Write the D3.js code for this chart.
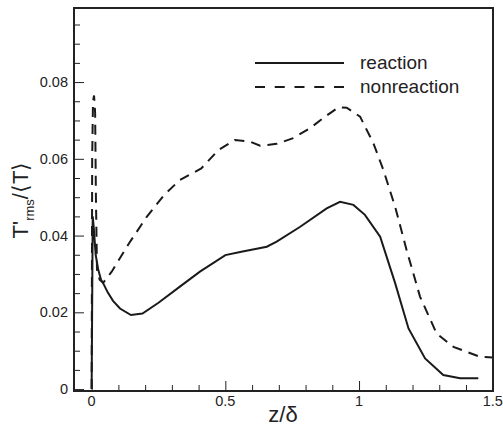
<!DOCTYPE html>
<html>
<head>
<meta charset="utf-8">
<script src="https://cdn.jsdelivr.net/npm/d3@7"></script>
<style>
  body { margin: 0; background: #fff; overflow: hidden; }
  #wrap { position: relative; width: 503px; height: 435px; }
  #wrap svg { position: absolute; left: 0; top: 0; display: block; }
  svg text { font-family: "Liberation Sans", Arial, sans-serif; fill: #222; }
</style>
</head>
<body>
<div id="wrap">
<svg id="chart"></svg>
<svg id="axes"></svg>
</div>
<script>
// reaction (solid)
var zReact = [0, 0.004, 0.008, 0.015, 0.025, 0.035, 0.043, 0.06, 0.08, 0.106, 0.147, 0.19, 0.25, 0.33, 0.405, 0.5, 0.56, 0.655, 0.692, 0.78, 0.879, 0.929, 0.979, 1.022, 1.079, 1.135, 1.185, 1.247, 1.315, 1.378, 1.446];
var vReact = [0, 0.045, 0.042, 0.035, 0.031, 0.0285, 0.0276, 0.0252, 0.023, 0.021, 0.0193, 0.0197, 0.0225, 0.0267, 0.0306, 0.0349, 0.0358, 0.0371, 0.0384, 0.0423, 0.0471, 0.0488, 0.048, 0.0454, 0.0397, 0.0276, 0.0158, 0.008, 0.00365, 0.0028, 0.0028];

// nonreaction (dashed)
var zNon = [0, 0.002, 0.005, 0.009, 0.013, 0.016, 0.02, 0.03, 0.043, 0.075, 0.14, 0.206, 0.27, 0.33, 0.41, 0.474, 0.536, 0.592, 0.63, 0.692, 0.754, 0.817, 0.873, 0.923, 0.954, 1.004, 1.054, 1.091, 1.135, 1.178, 1.228, 1.29, 1.353, 1.453, 1.5];
var vNon = [0, 0.06, 0.075, 0.0765, 0.072, 0.05, 0.031, 0.0285, 0.0277, 0.0306, 0.038, 0.0449, 0.0505, 0.0545, 0.0575, 0.0623, 0.0649, 0.0645, 0.0634, 0.0639, 0.0654, 0.068, 0.071, 0.0734, 0.0733, 0.071, 0.064, 0.0571, 0.0475, 0.0362, 0.0241, 0.0145, 0.011, 0.0084, 0.0082];

var xTicks = [0, 0.5, 1, 1.5];
var yTicks = [0, 0.02, 0.04, 0.06, 0.08];
var seriesNames = ["reaction", "nonreaction"];

var plotL = 74, plotT = 8, plotR = 493, plotB = 391;
var svg = d3.select("#chart").attr("width", 503).attr("height", 435);
var axesSvg = d3.select("#axes").attr("width", 503).attr("height", 435);

var x = d3.scaleLinear().domain([-0.066, 1.501]).range([plotL, plotR]);
var y = d3.scaleLinear().domain([-0.0005, 0.0993]).range([plotB, plotT]);

// frame and inward ticks (separate layer)
axesSvg.append("rect")
  .attr("x", plotL).attr("y", plotT)
  .attr("width", plotR - plotL).attr("height", plotB - plotT)
  .attr("fill", "none").attr("stroke", "#222").attr("stroke-width", 2);

var xMinor = d3.range(0, 1.5001, 0.1);
var yMinor = d3.range(0, 0.0951, 0.005);
function isMajor(list) {
  return function(d) { return list.some(function(t) { return Math.abs(t - d) < 1e-6; }); };
}
var gx = axesSvg.append("g")
  .attr("transform", "translate(0," + plotB + ")")
  .attr("color", "#222")
  .call(d3.axisTop(x).tickValues(xMinor).tickSize(6).tickSizeOuter(0).tickFormat(""));
gx.selectAll(".tick line").filter(isMajor(xTicks)).attr("y2", -10);

var gy = axesSvg.append("g")
  .attr("transform", "translate(" + plotL + ",0)")
  .attr("color", "#222")
  .call(d3.axisRight(y).tickValues(yMinor).tickSize(6).tickSizeOuter(0).tickFormat(""));
gy.selectAll(".tick line").filter(isMajor(yTicks)).attr("x2", 10);

// curves
var line = d3.line()
  .x(function(d) { return x(d[0]); })
  .y(function(d) { return y(d[1]); });

var reactData = zReact.map(function(z, i) { return [z, vReact[i]]; });
var nonData = zNon.map(function(z, i) { return [z, vNon[i]]; });

svg.append("path").datum(nonData)
  .attr("d", line)
  .attr("fill", "none")
  .attr("stroke", "#1a1a1a")
  .attr("stroke-width", 2)
  .attr("stroke-dasharray", "10,7");

svg.append("path").datum(reactData)
  .attr("d", line)
  .attr("fill", "none")
  .attr("stroke", "#1a1a1a")
  .attr("stroke-width", 2);

// tick labels
svg.selectAll("text.xlab").data(xTicks).enter().append("text")
  .attr("class", "xlab")
  .attr("x", function(d) { return x(d); })
  .attr("y", 406)
  .attr("text-anchor", "middle")
  .style("font-size", "14.5px")
  .text(function(d) { return d; });

svg.selectAll("text.ylab").data(yTicks).enter().append("text")
  .attr("class", "ylab")
  .attr("x", 68)
  .attr("y", function(d) { return y(d) + 5; })
  .attr("text-anchor", "end")
  .style("font-size", "14.5px")
  .text(function(d) { return d; });

// axis titles
svg.append("text")
  .attr("x", 283).attr("y", 422)
  .attr("text-anchor", "middle")
  .style("font-size", "22px")
  .text("z/δ");

var yt = svg.append("text")
  .attr("transform", "translate(28,200) rotate(-90)")
  .attr("text-anchor", "middle")
  .style("font-size", "22px");
yt.append("tspan").text("T'");
yt.append("tspan").style("font-size", "13px").attr("dy", 6).text("rms");
yt.append("tspan").attr("dy", -6).text("/⟨T⟩");

// legend
seriesNames.forEach(function(name, i) {
  var ly = 63 + i * 24;
  svg.append("line")
    .attr("x1", 255).attr("x2", 344)
    .attr("y1", ly).attr("y2", ly)
    .attr("stroke", "#1a1a1a").attr("stroke-width", 2)
    .attr("stroke-dasharray", i === 1 ? "10,9.75" : null);
  svg.append("text")
    .attr("x", 360).attr("y", ly + 6)
    .style("font-size", "19px")
    .text(name);
});
</script>
</body>
</html>
